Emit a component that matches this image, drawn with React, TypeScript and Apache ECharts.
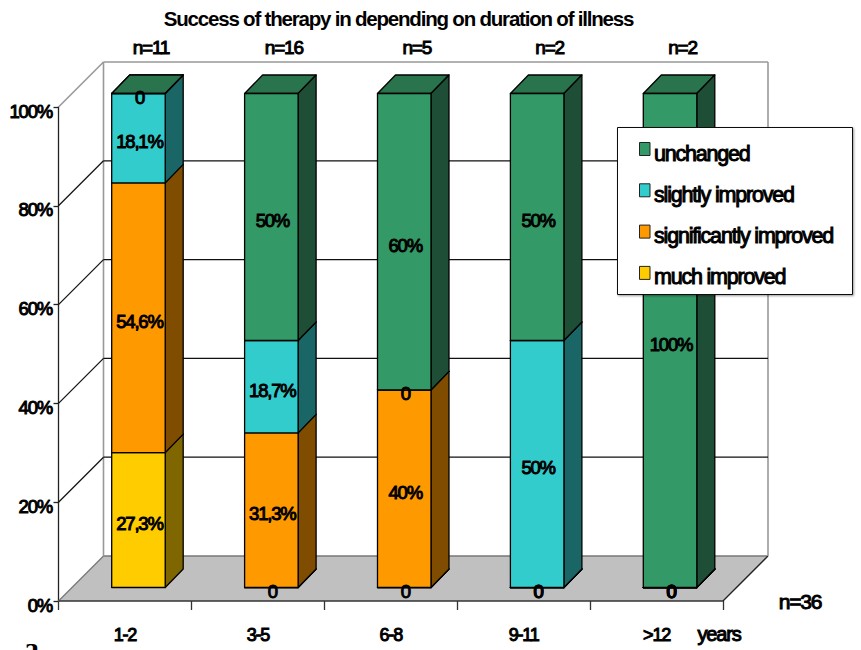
import React, { useEffect, useRef } from "react";
import * as echarts from "echarts";

const TITLE = "Success of therapy in depending on duration of illness";
const categories = ["1-2", "3-5", "6-8", "9-11", ">12"];
const nLabels = ["n=11", "n=16", "n=5", "n=2", "n=2"];
const yTicks = [0, 20, 40, 60, 80, 100];
const muchImproved = [27.3, 0, 0, 0, 0];
const significantlyImproved = [54.6, 31.3, 40, 0, 0];
const slightlyImproved = [18.1, 18.7, 0, 50, 0];
const unchanged = [0, 50, 60, 50, 100];
const muchLabels = ["27,3%", "0", "0", "0", "0"];
const significantlyLabels = ["54,6%", "31,3%", "40%", "0", "0"];
const slightlyLabels = ["18,1%", "18,7%", "0", "50%", "0"];
const unchangedLabels = ["0", "50%", "60%", "50%", "100%"];

const FONT = "'Liberation Sans', Arial, sans-serif";
const HEAVY = 1;
const WALL_DX = 45;
const WALL_DY = 45;
const BAR_SHIFT = 13.5;
const BAR_W = 53.5;
const BAR_DX = 18;
const BAR_DY = 18.5;

const stacks = [
  { name: "much improved", values: muchImproved, labels: muchLabels, front: "#FFCC00", side: "#7F6600", top: "#BF9900" },
  { name: "significantly improved", values: significantlyImproved, labels: significantlyLabels, front: "#FF9900", side: "#7F4C00", top: "#BF7300" },
  { name: "slightly improved", values: slightlyImproved, labels: slightlyLabels, front: "#33CCCC", side: "#1A6666", top: "#269999" },
  { name: "unchanged", values: unchanged, labels: unchangedLabels, front: "#339966", side: "#1E4F36", top: "#29734D" },
];

function baseOf(stackIdx: number, cat: number) {
  let s = 0;
  for (let k = 0; k < stackIdx; k++) s += stacks[k].values[cat];
  return s;
}

const txt = (text: string, x: number, y: number, fontSize = 18.5) => ({
  type: "text",
  silent: true,
  z2: 50,
  style: {
    text, x, y, fontSize, fontFamily: FONT, fill: "#000", stroke: "#000", lineWidth: HEAVY,
    textAlign: "center", textVerticalAlign: "middle",
  },
});

const poly = (points: number[][], fill: string, stroke = "#000", lineWidth = 1.3) => ({
  type: "polygon", shape: { points }, style: { fill, stroke, lineWidth, lineJoin: "round" },
});
const seg = (x1: number, y1: number, x2: number, y2: number, stroke: string, lineWidth = 1.3) => ({
  type: "line", shape: { x1, y1, x2, y2 }, style: { stroke, lineWidth },
});

function barSeries(stackIdx: number) {
  const st = stacks[stackIdx];
  return {
    type: "custom",
    name: st.name,
    z: 5,
    clip: false,
    itemStyle: { color: st.front, borderColor: "#222", borderWidth: 1 },
    encode: { x: 0, y: 1 },
    data: st.values.map((v, i) => [i, v]),
    renderItem: (_p: any, api: any) => {
      const cat = api.value(0);
      const v = api.value(1);
      const b = baseOf(stackIdx, cat);
      const p0 = api.coord([cat, b]);
      const p1 = api.coord([cat, b + v]);
      const xl = p0[0] + BAR_SHIFT - BAR_W / 2;
      const xr = xl + BAR_W;
      const yb = p0[1] - BAR_SHIFT;
      const yt = p1[1] - BAR_SHIFT;
      return {
        type: "group",
        children: [
          poly([[xl, yt], [xr, yt], [xr + BAR_DX, yt - BAR_DY], [xl + BAR_DX, yt - BAR_DY]], st.top),
          poly([[xr, yb], [xr + BAR_DX, yb - BAR_DY], [xr + BAR_DX, yt - BAR_DY], [xr, yt]], st.side),
          poly([[xl, yb], [xr, yb], [xr, yt], [xl, yt]], st.front),
          txt(st.labels[cat], xl + BAR_W / 2 + 1, (yb + yt) / 2 + 3.5),
        ],
      };
    },
  };
}

const frameSeries = {
  type: "custom",
  name: "frame",
  z: 1,
  clip: false,
  silent: true,
  encode: { y: 0 },
  data: yTicks.map((t) => [t]),
  renderItem: (_p: any, api: any) => {
    const t = api.value(0);
    const a = api.coord([0, t]);
    const half = api.size([1, 0])[0] / 2;
    const xl = a[0] - half;
    const xr = xl + api.size([1, 0])[0] * categories.length;
    const y = a[1];
    const children: any[] = [];
    if (t === 0) {
      children.push({
        type: "polygon",
        shape: { points: [[xl, y], [xr, y], [xr + WALL_DX, y - WALL_DY], [xl + WALL_DX, y - WALL_DY]] },
        style: { fill: "#C0C0C0" },
      });
      children.push(seg(xl, y, xl + WALL_DX, y - WALL_DY, "#777"));
      children.push(seg(xl + WALL_DX, y - WALL_DY, xr + WALL_DX, y - WALL_DY, "#777"));
      children.push(seg(xr, y, xr + WALL_DX, y - WALL_DY, "#222"));
      const top = api.coord([0, 100])[1];
      children.push(seg(xl + WALL_DX, y - WALL_DY, xl + WALL_DX, top - WALL_DY, "#999", 1.6));
      children.push(seg(xr + WALL_DX, y - WALL_DY, xr + WALL_DX, top - WALL_DY, "#999", 1.6));
    } else if (t === 100) {
      children.push(seg(xl, y, xl + WALL_DX, y - WALL_DY, "#999", 1.6));
      children.push(seg(xl + WALL_DX, y - WALL_DY, xr + WALL_DX, y - WALL_DY, "#999", 1.6));
    } else {
      children.push(seg(xl, y, xl + WALL_DX, y - WALL_DY, "#111"));
      children.push(seg(xl + WALL_DX, y - WALL_DY, xr + WALL_DX, y - WALL_DY, "#111"));
    }
    return { type: "group", children };
  },
};

const nSeries = {
  type: "custom",
  name: "counts",
  z: 6,
  clip: false,
  silent: true,
  encode: { x: 0 },
  data: nLabels.map((_, i) => [i]),
  renderItem: (_p: any, api: any) => {
    const i = api.value(0);
    const c = api.coord([i, 100]);
    return txt(nLabels[i], c[0] + 26, c[1] - 60, 19);
  },
};

const legendOrder = [3, 2, 1, 0];
const legendElements: any[] = [
  {
    type: "rect", z: 100,
    shape: { x: 617.5, y: 127.5, width: 235, height: 167 },
    style: { fill: "#fff", stroke: "#111", lineWidth: 1, shadowColor: "rgba(0,0,0,0.4)", shadowBlur: 2, shadowOffsetX: 1, shadowOffsetY: 1 },
  },
  ...legendOrder.flatMap((k, i) => [
    {
      type: "rect", z: 101,
      shape: { x: 639.5, y: 142.5 + 41.3 * i, width: 10.5, height: 13 },
      style: { fill: stacks[k].front, stroke: "#222", lineWidth: 1 },
    },
    {
      type: "text", z: 101, x: 654, y: 153.5 + 41.3 * i,
      style: {
        text: stacks[k].name, fontFamily: FONT, fontSize: 21.5, fill: "#000", stroke: "#000", lineWidth: HEAVY,
        textAlign: "left", textVerticalAlign: "middle",
      },
    },
  ]),
];

export default function App() {
  const ref = useRef<HTMLDivElement>(null);
  useEffect(() => {
    const chart = echarts.init(ref.current!, undefined, { renderer: "svg" });
    chart.setOption({
      animation: false,
      backgroundColor: "#fff",
      title: {
        text: TITLE,
        left: 393.5,
        top: 3,
        textAlign: "center",
        textStyle: { fontFamily: FONT, fontSize: 20.5, fontWeight: "bold", color: "#000" },
      },
      grid: { left: 58.5, top: 107, width: 664.5, height: 494 },
      xAxis: {
        type: "category",
        data: categories,
        axisLine: { show: false },
        axisTick: { show: true, alignWithLabel: false, length: 9, lineStyle: { color: "#333", width: 1.3 } },
        axisLabel: {
          margin: 25, fontFamily: FONT, fontSize: 18, color: "#000",
          textBorderColor: "#000", textBorderWidth: HEAVY,
        },
        splitLine: { show: false },
      },
      yAxis: {
        type: "value",
        min: 0,
        max: 100,
        interval: 20,
        axisLine: { show: true, lineStyle: { color: "#222", width: 1.3 } },
        axisTick: { show: true, length: 5, lineStyle: { color: "#222", width: 1.3 } },
        splitLine: { show: false },
        axisLabel: {
          formatter: "{value}%", margin: 6.5, fontFamily: FONT, fontSize: 18.5, color: "#000",
          textBorderColor: "#000", textBorderWidth: HEAVY, verticalAlign: "top", lineHeight: 8,
        },
      },
      graphic: [
        { type: "line", z: 3, shape: { x1: 58.5, y1: 601, x2: 723, y2: 601 }, style: { stroke: "#333", lineWidth: 1.3 } },
        { type: "text", x: 719, y: 634, style: { text: "years", fontFamily: FONT, fontSize: 20, fill: "#000", stroke: "#000", lineWidth: HEAVY, textAlign: "center", textVerticalAlign: "middle" } },
        { type: "text", x: 800, y: 601, style: { text: "n=36", fontFamily: FONT, fontSize: 21, fill: "#000", stroke: "#000", lineWidth: HEAVY, textAlign: "center", textVerticalAlign: "middle" } },
        { type: "text", x: 31, y: 662, style: { text: "a", fontFamily: "'Liberation Serif', serif", fontWeight: "bold", fontSize: 30, fill: "#000", textAlign: "center", textVerticalAlign: "bottom" } },
        ...legendElements,
      ],
      series: [frameSeries, nSeries, ...stacks.map((_, i) => barSeries(i))],
    });
    return () => chart.dispose();
  }, []);
  return (
    <>
      <style>{`body{margin:0} #chart svg text{letter-spacing:-1.2px}`}</style>
      <div id="chart" ref={ref} style={{ position: "fixed", left: 0, top: 0, width: 861, height: 650 }} />
    </>
  );
}
